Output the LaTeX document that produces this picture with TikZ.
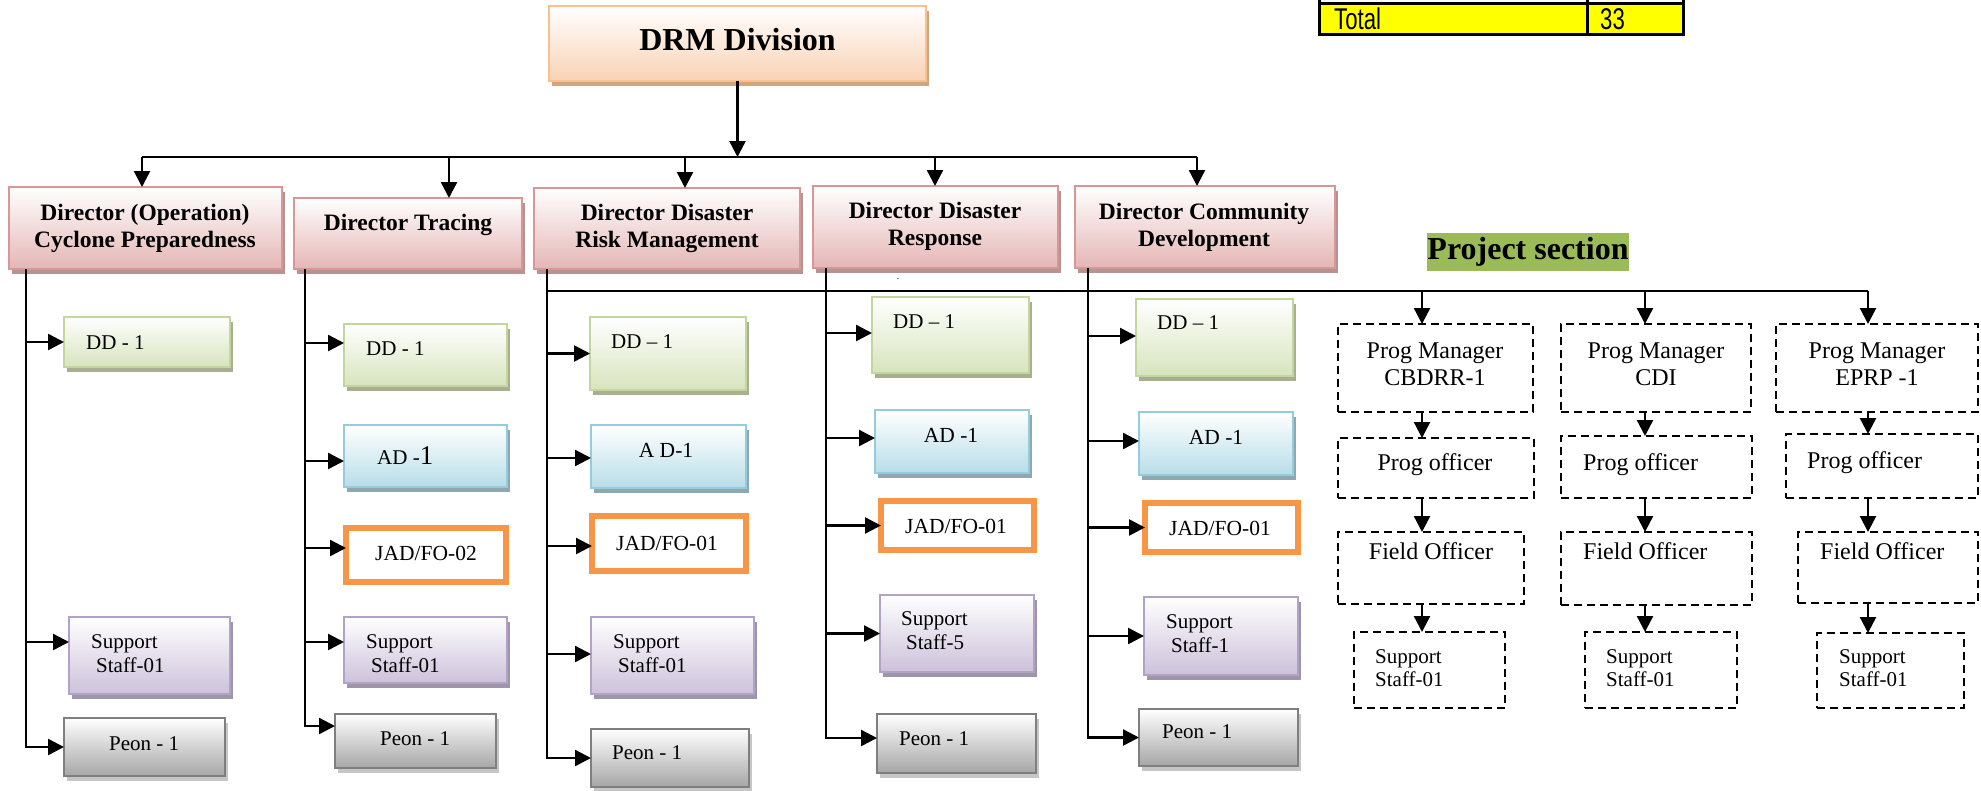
\documentclass[tikz,border=0pt]{standalone}
\usepackage{fontspec}
\setmainfont{Liberation Serif}
\newfontfamily\cellfont[FakeStretch=0.74]{Liberation Sans}
\usetikzlibrary{arrows.meta,shadows}

\definecolor{drmline}{HTML}{FAC090}
\definecolor{drmfill}{HTML}{F9D2B4}
\definecolor{drmshade}{HTML}{D3A57F}
\definecolor{dirline}{HTML}{D99694}
\definecolor{dirfill}{HTML}{E4B6B5}
\definecolor{dirshade}{HTML}{B39393}
\definecolor{ddline}{HTML}{C3D69B}
\definecolor{ddfill}{HTML}{D7E4BD}
\definecolor{ddshade}{HTML}{A7AF90}
\definecolor{adline}{HTML}{93CDDD}
\definecolor{adfill}{HTML}{B7DDE8}
\definecolor{adshade}{HTML}{8FA8AF}
\definecolor{jadline}{HTML}{F79646}
\definecolor{ssline}{HTML}{B3A2C7}
\definecolor{ssfill}{HTML}{CCC1DA}
\definecolor{ssshade}{HTML}{9D95A8}
\definecolor{peline}{HTML}{7F7F7F}
\definecolor{pefill}{HTML}{A6A6A6}
\definecolor{peshade}{HTML}{C6C6C6}
\definecolor{projfill}{HTML}{9BBB59}
\definecolor{cellfill}{HTML}{FFFF00}

% box from top-left (x1,y1) to bottom-right (x2,y2)
\newcommand{\orgbox}[6]{\node[#2, anchor=north west, minimum width={(#5)-(#3)}, minimum height={(#6)-(#4)}] (#1) at (#3,#4) {};}
% horizontal feeder arrow from a trunk into the west side of a box
\newcommand{\feed}[3]{\coordinate (#2in) at ([yshift=#3pt]#2.west); \draw[arr] (#1 |- #2in) -- (#2in);}

\tikzset{
  line/.style={line width=2.4pt, draw=black},
  arr/.style={line, -{Triangle[length=16pt,width=16pt]}},
  base/.style={rectangle, inner sep=0pt, outer sep=0pt, line width=2.2pt},
  shadowed/.style={drop shadow={shadow xshift=3pt, shadow yshift=-5pt, fill=#1, opacity=1}},
  drmbox/.style={base, draw=drmline, top color=white, bottom color=drmfill, shadowed=drmshade},
  dirbox/.style={base, draw=dirline, top color=white, bottom color=dirfill, shadowed=dirshade},
  ddbox/.style={base, draw=ddline, top color=white, bottom color=ddfill, shadowed=ddshade},
  adbox/.style={base, draw=adline, top color=white, bottom color=adfill, shadowed=adshade},
  jadbox/.style={base, draw=jadline, fill=white, line width=6pt},
  ssbox/.style={base, draw=ssline, top color=white, bottom color=ssfill, shadowed=ssshade},
  pebox/.style={base, draw=peline, line width=2.6pt, top color=white, bottom color=pefill, shadowed=peshade},
  dbox/.style={rectangle, inner sep=0pt, outer sep=0pt, draw=black, line width=2.3pt, dash pattern=on 8pt off 5pt},
  dirtxt/.style={font=\fontsize{23.5}{27}\selectfont\bfseries, align=center, inner sep=0pt},
  stafftxt/.style={font=\fontsize{21}{24}\selectfont, align=left, anchor=west, inner sep=0pt},
  stafftxtc/.style={font=\fontsize{21.5}{24}\selectfont, align=center, inner sep=0pt},
  progtxt/.style={font=\fontsize{24}{27}\selectfont, align=center, inner sep=0pt},
  progtxtl/.style={font=\fontsize{24}{27}\selectfont, align=left, anchor=west, inner sep=0pt},
  progss/.style={font=\fontsize{21}{23}\selectfont, align=left, anchor=west, inner sep=0pt},
  celltxt/.style={font=\cellfont\fontsize{30}{32}\selectfont, anchor=west, inner sep=0pt},
}

\begin{document}
\begin{tikzpicture}[x=1pt,y=-1pt]
\useasboundingbox (0,0) rectangle (1981,790);

% summary table fragment
\fill[cellfill] (1319,3) rectangle (1683,34);
\draw[line width=3pt] (1319,0) -- (1319,34) -- (1683,34) -- (1683,0);
\draw[line width=3pt] (1319,3) -- (1683,3);
\draw[line width=3pt] (1587,0) -- (1587,34);
\node[celltxt] (totalT) at (1334,19) {Total};
\node[celltxt] (totalN) at (1600,19) {33};

% division head
\orgbox{drm}{drmbox}{549}{6}{926}{81}
\node[font=\fontsize{32}{36}\selectfont\bfseries, inner sep=0pt] (drmT) at (737.5,40) {DRM Division};

% directors
\orgbox{d1}{dirbox}{9}{187}{282}{269}
\orgbox{d2}{dirbox}{294}{198}{522}{269}
\orgbox{d3}{dirbox}{534}{188}{800}{269}
\orgbox{d4}{dirbox}{813}{186}{1058}{268}
\orgbox{d5}{dirbox}{1075}{186}{1335}{268}
\node[dirtxt] (d1T) at (145,228) {Director (Operation)\\Cyclone Preparedness};
\node[dirtxt] (d2T) at (408,225) {Director Tracing};
\node[dirtxt] (d3T) at (667,228) {Director Disaster\\Risk Management};
\node[dirtxt] (d4T) at (935,226) {Director Disaster\\Response};
\node[dirtxt] (d5T) at (1204,227) {Director Community\\Development};

% bus from the division head to the directors
\coordinate (bus) at (737.5,157);
\coordinate (b1) at (142,157);
\coordinate (b2) at (449,157);
\coordinate (b3) at (685,157);
\coordinate (b4) at (935,157);
\coordinate (b5) at (1197,157);
\draw[arr] (drm.south) -- (bus);
\draw[line] (b1) -- (b5);
\draw[arr] (b1) -- (b1 |- d1.north);
\draw[arr] (b2) -- (b2 |- d2.north);
\draw[arr] (b3) -- (b3 |- d3.north);
\draw[arr] (b4) -- (b4 |- d4.north);
\draw[arr] (b5) -- (b5 |- d5.north);

% column 1
\orgbox{c1dd}{ddbox}{64}{317}{230}{367}
\orgbox{c1ss}{ssbox}{69}{617}{230}{694}
\orgbox{c1pe}{pebox}{64}{718}{225}{776}
\node[stafftxt] (c1ddT) at (86,343) {DD - 1};
\node[stafftxt] (c1ssT) at (91,654) {Support\\\hspace*{5pt}Staff-01};
\node[stafftxt] (c1peT) at (109,744) {Peon - 1};

% column 2
\orgbox{c2dd}{ddbox}{344}{324}{507}{386}
\orgbox{c2ad}{adbox}{344}{425}{507}{487}
\orgbox{c2jad}{jadbox}{346}{528}{506}{582}
\orgbox{c2ss}{ssbox}{344}{617}{507}{683}
\orgbox{c2pe}{pebox}{335}{714}{496}{768}
\node[stafftxt] (c2ddT) at (366,349) {DD - 1};
\node[stafftxt] (c2adT) at (377,456) {AD -{\fontsize{27}{27}\selectfont 1}};
\node[stafftxtc] (c2jadT) at (426,553) {JAD/FO-02};
\node[stafftxt] (c2ssT) at (366,654) {Support\\\hspace*{5pt}Staff-01};
\node[stafftxt] (c2peT) at (380,739) {Peon - 1};

% column 3
\orgbox{c3dd}{ddbox}{590}{317}{746}{390}
\orgbox{c3ad}{adbox}{591}{425}{746}{488}
\orgbox{c3jad}{jadbox}{592}{516}{746}{571}
\orgbox{c3ss}{ssbox}{591}{617}{754}{694}
\orgbox{c3pe}{pebox}{591}{729}{749}{787}
\node[stafftxt] (c3ddT) at (611,342) {DD – 1};
\node[stafftxtc] (c3adT) at (666,450) {A D-1};
\node[stafftxtc] (c3jadT) at (667,543) {JAD/FO-01};
\node[stafftxt] (c3ssT) at (613,654) {Support\\\hspace*{5pt}Staff-01};
\node[stafftxt] (c3peT) at (612,753) {Peon - 1};

% column 4
\orgbox{c4dd}{ddbox}{872}{297}{1029}{373}
\orgbox{c4ad}{adbox}{875}{410}{1029}{473}
\orgbox{c4jad}{jadbox}{881}{501}{1034}{550}
\orgbox{c4ss}{ssbox}{880}{595}{1034}{672}
\orgbox{c4pe}{pebox}{877}{714}{1036}{773}
\node[stafftxt] (c4ddT) at (893,322) {DD – 1};
\node[stafftxtc] (c4adT) at (951,435) {AD -1};
\node[stafftxtc] (c4jadT) at (956,526) {JAD/FO-01};
\node[stafftxt] (c4ssT) at (901,631) {Support\\\hspace*{5pt}Staff-5};
\node[stafftxt] (c4peT) at (899,739) {Peon - 1};

% column 5
\orgbox{c5dd}{ddbox}{1136}{299}{1293}{376}
\orgbox{c5ad}{adbox}{1139}{412}{1293}{475}
\orgbox{c5jad}{jadbox}{1145}{503}{1298}{552}
\orgbox{c5ss}{ssbox}{1144}{597}{1298}{675}
\orgbox{c5pe}{pebox}{1139}{709}{1298}{766}
\node[stafftxt] (c5ddT) at (1157,323) {DD – 1};
\node[stafftxtc] (c5adT) at (1216,437) {AD -1};
\node[stafftxtc] (c5jadT) at (1220,528) {JAD/FO-01};
\node[stafftxt] (c5ssT) at (1166,634) {Support\\\hspace*{5pt}Staff-1};
\node[stafftxt] (c5peT) at (1162,732) {Peon - 1};

% trunks below the directors
\coordinate (c1t) at (26,269);
\coordinate (c2t) at (305,269);
\coordinate (c3t) at (547,269);
\coordinate (c4t) at (826,268);
\coordinate (c5t) at (1088,268);

\feed{c1t}{c1dd}{0}
\feed{c1t}{c1ss}{13.5}
\draw[arr] (c1t) |- (c1pe.west);

\feed{c2t}{c2dd}{12}
\feed{c2t}{c2ad}{-5}
\feed{c2t}{c2jad}{7}
\feed{c2t}{c2ss}{8}
\draw[arr] (c2t) |- ([yshift=15pt]c2pe.west);

\feed{c3t}{c3dd}{0}
\feed{c3t}{c3ad}{-1.5}
\feed{c3t}{c3jad}{-2.5}
\feed{c3t}{c3ss}{1.5}
\draw[arr] (c3t) |- (c3pe.west);

\feed{c4t}{c4dd}{2}
\feed{c4t}{c4ad}{3.5}
\feed{c4t}{c4jad}{0}
\feed{c4t}{c4ss}{0}
\draw[arr] (c4t) |- ([yshift=5.5pt]c4pe.west);

\feed{c5t}{c5dd}{1.5}
\feed{c5t}{c5ad}{2.5}
\feed{c5t}{c5jad}{0}
\feed{c5t}{c5ss}{0}
\draw[arr] (c5t) |- (c5pe.west);

\node[font=\fontsize{10}{10}\selectfont, inner sep=0pt] (dot) at (898,279) {.};

% project section
\node[fill=projfill, minimum width=202pt, minimum height=38pt, inner sep=0pt,
      font=\fontsize{32}{36}\selectfont\bfseries] (proj) at (1528,252) {Project section};

\coordinate (pb0) at (547,291);
\coordinate (p1) at (1422,291);
\coordinate (p2) at (1645,291);
\coordinate (p3) at (1868,291);
\draw[line] (pb0) -- (p3);

\orgbox{pm1}{dbox}{1338}{324}{1533}{412}
\orgbox{po1}{dbox}{1338}{438}{1534}{498}
\orgbox{fo1}{dbox}{1338}{532}{1524}{604}
\orgbox{ss1}{dbox}{1354}{632}{1505}{708}
\orgbox{pm2}{dbox}{1561}{324}{1751}{412}
\orgbox{po2}{dbox}{1561}{436}{1752}{498}
\orgbox{fo2}{dbox}{1561}{532}{1752}{605}
\orgbox{ss2}{dbox}{1585}{632}{1737}{708}
\orgbox{pm3}{dbox}{1776}{324}{1978}{412}
\orgbox{po3}{dbox}{1786}{434}{1978}{498}
\orgbox{fo3}{dbox}{1798}{532}{1978}{603}
\orgbox{ss3}{dbox}{1817}{633}{1964}{708}

\node[progtxt] (pm1T) at (1435,364) {Prog Manager\\CBDRR-1};
\node[progtxt] (po1T) at (1435,465) {Prog officer};
\node[progtxt] (fo1T) at (1431,551) {Field Officer};
\node[progss] (ss1T) at (1375,668) {Support\\Staff-01};
\node[progtxt] (pm2T) at (1656,364) {Prog Manager\\CDI};
\node[progtxtl] (po2T) at (1583,465) {Prog officer};
\node[progtxtl] (fo2T) at (1583,551) {Field Officer};
\node[progss] (ss2T) at (1606,668) {Support\\Staff-01};
\node[progtxt] (pm3T) at (1877,364) {Prog Manager\\EPRP -1};
\node[progtxtl] (po3T) at (1807,463) {Prog officer};
\node[progtxtl] (fo3T) at (1820,551) {Field Officer};
\node[progss] (ss3T) at (1839,668) {Support\\Staff-01};

\draw[arr] (p1) -- (p1 |- pm1.north);
\draw[arr] (p1 |- pm1.south) -- (p1 |- po1.north);
\draw[arr] (p1 |- po1.south) -- (p1 |- fo1.north);
\draw[arr] (p1 |- fo1.south) -- (p1 |- ss1.north);
\draw[arr] (p2) -- (p2 |- pm2.north);
\draw[arr] (p2 |- pm2.south) -- (p2 |- po2.north);
\draw[arr] (p2 |- po2.south) -- (p2 |- fo2.north);
\draw[arr] (p2 |- fo2.south) -- (p2 |- ss2.north);
\draw[arr] (p3) -- (p3 |- pm3.north);
\draw[arr] (p3 |- pm3.south) -- (p3 |- po3.north);
\draw[arr] (p3 |- po3.south) -- (p3 |- fo3.north);
\draw[arr] (p3 |- fo3.south) -- (p3 |- ss3.north);
\end{tikzpicture}
\end{document}
